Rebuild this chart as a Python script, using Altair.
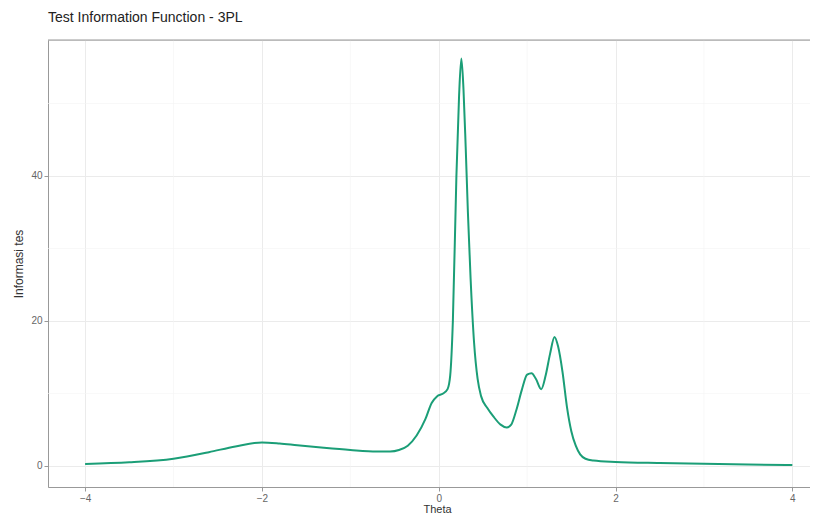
import altair as alt
import pandas as pd

theta = [-4.0, -3.5, -3.0, -2.6, -2.3, -2.0, -1.8, -1.6, -1.3, -1.0, -0.7, -0.55,
         -0.45, -0.35, -0.25, -0.15, -0.08, -0.02, 0.05, 0.10, 0.13, 0.16, 0.20,
         0.23, 0.256, 0.28, 0.305, 0.33, 0.36, 0.40, 0.44, 0.48, 0.55, 0.62, 0.70,
         0.77, 0.82, 0.88, 0.94, 1.00, 1.05, 1.10, 1.16, 1.21, 1.26, 1.31, 1.35,
         1.40, 1.45, 1.50, 1.55, 1.60, 1.66, 1.75, 2.0, 2.5, 3.0, 3.5, 4.0]
info = [0.28, 0.5, 1.0, 1.9, 2.7, 3.25, 3.1, 2.85, 2.5, 2.2, 2.0, 2.0,
        2.2, 2.8, 4.2, 6.5, 8.7, 9.6, 10.0, 10.6, 12.5, 20.0, 40.0,
        51.0, 56.2, 52.0, 44.0, 35.0, 26.0, 17.0, 12.0, 9.6, 8.0, 6.8, 5.7,
        5.3, 5.7, 7.8, 10.5, 12.6, 12.8, 12.0, 10.6, 12.5, 15.5, 17.8, 16.5,
        13.0, 8.2, 4.8, 2.8, 1.6, 1.0, 0.75, 0.55, 0.4, 0.3, 0.2, 0.12]

x_major = [-4, -2, 0, 2, 4]
x_minor = [-3, -1, 1, 3]
y_major = [0, 20, 40]
y_minor = [10, 30, 50]

df = pd.DataFrame({"theta": theta, "info": info})

W, H = 762, 447
xdom = [-4.42, 4.20]
ydom = [-2.9, 58.76]
FONT = "Liberation Sans"

xs = alt.Scale(domain=xdom, nice=False, zero=False)
ys = alt.Scale(domain=ydom, nice=False, zero=False)

x_axis = alt.Axis(
    values=x_major, title="Theta", grid=True, gridColor="#EBEBEB", gridWidth=1,
    domain=True, domainColor="#999999", tickColor="#999999", tickSize=4,
    labelFontSize=10, labelColor="#666666", labelPadding=2, labelFont=FONT,
    titleFont=FONT, titleFontSize=11, titleFontWeight="normal", titleColor="#333333",
    titleX=389, titleY=16, titleBaseline="top", labelFlush=False,
)
y_axis = alt.Axis(
    values=y_major, title="Informasi tes", grid=True, gridColor="#EBEBEB", gridWidth=1,
    domain=True, domainColor="#999999", tickColor="#999999", tickSize=4,
    labelFontSize=10, labelColor="#666666", labelPadding=2, labelFont=FONT,
    titleFont=FONT, titleFontSize=12, titleFontWeight="normal", titleColor="#333333",
    titleX=-23, titleBaseline="bottom", labelFlush=False,
)

minor_x = alt.Chart(pd.DataFrame({"v": x_minor})).mark_rule(
    color="#F3F3F3", strokeWidth=0.6
).encode(x=alt.X("v:Q", scale=xs, axis=x_axis))

minor_y = alt.Chart(pd.DataFrame({"v": y_minor})).mark_rule(
    color="#F3F3F3", strokeWidth=0.6
).encode(y=alt.Y("v:Q", scale=ys, axis=y_axis))

line = alt.Chart(df).mark_line(
    color="#1B9E77", strokeWidth=2, interpolate="monotone"
).encode(
    x=alt.X("theta:Q", scale=xs, axis=x_axis),
    y=alt.Y("info:Q", scale=ys, axis=y_axis),
)

top_border = alt.Chart(pd.DataFrame({"v": [0]})).mark_rule(
    color="#999999", strokeWidth=1
).encode(y=alt.value(0))

chart = alt.layer(minor_x, minor_y, line, top_border).properties(
    width=W, height=H,
    title=alt.TitleParams("Test Information Function - 3PL", anchor="start",
                          frame="group", font=FONT, fontSize=14, fontWeight="normal",
                          color="#222222", offset=15),
    autosize=alt.AutoSizeParams(type="none"),
    padding={"left": 40, "top": 32, "right": 0, "bottom": 28},
).configure_view(stroke=None).configure(background="white")

chart.save("out.html", embed_options={"renderer": "svg", "actions": False})
